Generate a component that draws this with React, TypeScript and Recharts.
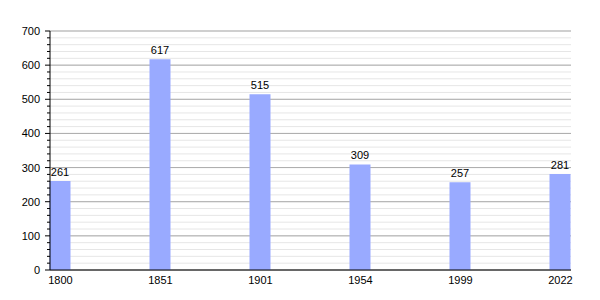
import { Bar, BarChart, CartesianGrid, LabelList, XAxis, YAxis } from "recharts";

const years = ["1800", "1851", "1901", "1954", "1999", "2022"];
const population = [261, 617, 515, 309, 257, 281];
const majorTicks = [0, 100, 200, 300, 400, 500, 600, 700];
const minorTicks = [
  0, 20, 40, 60, 80, 100, 120, 140, 160, 180, 200, 220, 240, 260, 280, 300, 320, 340, 360, 380,
  400, 420, 440, 460, 480, 500, 520, 540, 560, 580, 600, 620, 640, 660, 680, 700,
];
const slots = [0, 1, 2, 3, 4, 5];

const data = years.map((year, i) => ({ slot: slots[i], year, value: population[i] }));

const font = "'Liberation Sans', Arial, sans-serif";

function YTick({ x, y, payload }: any) {
  const major = payload.value % 100 === 0;
  return (
    <g>
      <line x1={x - (major ? 5 : 3)} x2={x} y1={y} y2={y} stroke="#000" />
      {major && (
        <text x={x - 10} y={y} dy={4} textAnchor="end" fontSize={11} fill="#000" fontFamily={font}>
          {payload.value}
        </text>
      )}
    </g>
  );
}

export default function App() {
  return (
    <div style={{ position: "absolute", left: 0, top: 0, width: 600, height: 300, background: "#fff" }}>
      <BarChart
        width={600}
        height={300}
        data={data}
        margin={{ top: 31, right: 29, left: 0, bottom: 0 }}
        style={{ fontFamily: font }}
      >
        <CartesianGrid vertical={false} stroke="#e6e6e6" />
        <CartesianGrid vertical={false} horizontalValues={majorTicks} stroke="#ababab" />
        <XAxis
          dataKey="slot"
          type="number"
          domain={[0, 5]}
          ticks={slots}
          tickFormatter={(i: number) => years[i]}
          padding={{ left: 10.5, right: 10.5 }}
          height={30}
          tickLine={false}
          axisLine={{ stroke: "#000" }}
          tick={{ fill: "#000", fontSize: 11 }}
          tickMargin={0}
        />
        <YAxis
          width={50}
          domain={[0, 700]}
          ticks={minorTicks}
          interval={0}
          tickSize={0}
          tickMargin={0}
          tickLine={false}
          axisLine={{ stroke: "#000" }}
          tick={<YTick />}
        />
        <Bar dataKey="value" fill="#99aaff" barSize={21} isAnimationActive={false}>
          <LabelList dataKey="value" position="top" offset={5} fill="#000" fontSize={11} />
        </Bar>
      </BarChart>
    </div>
  );
}
